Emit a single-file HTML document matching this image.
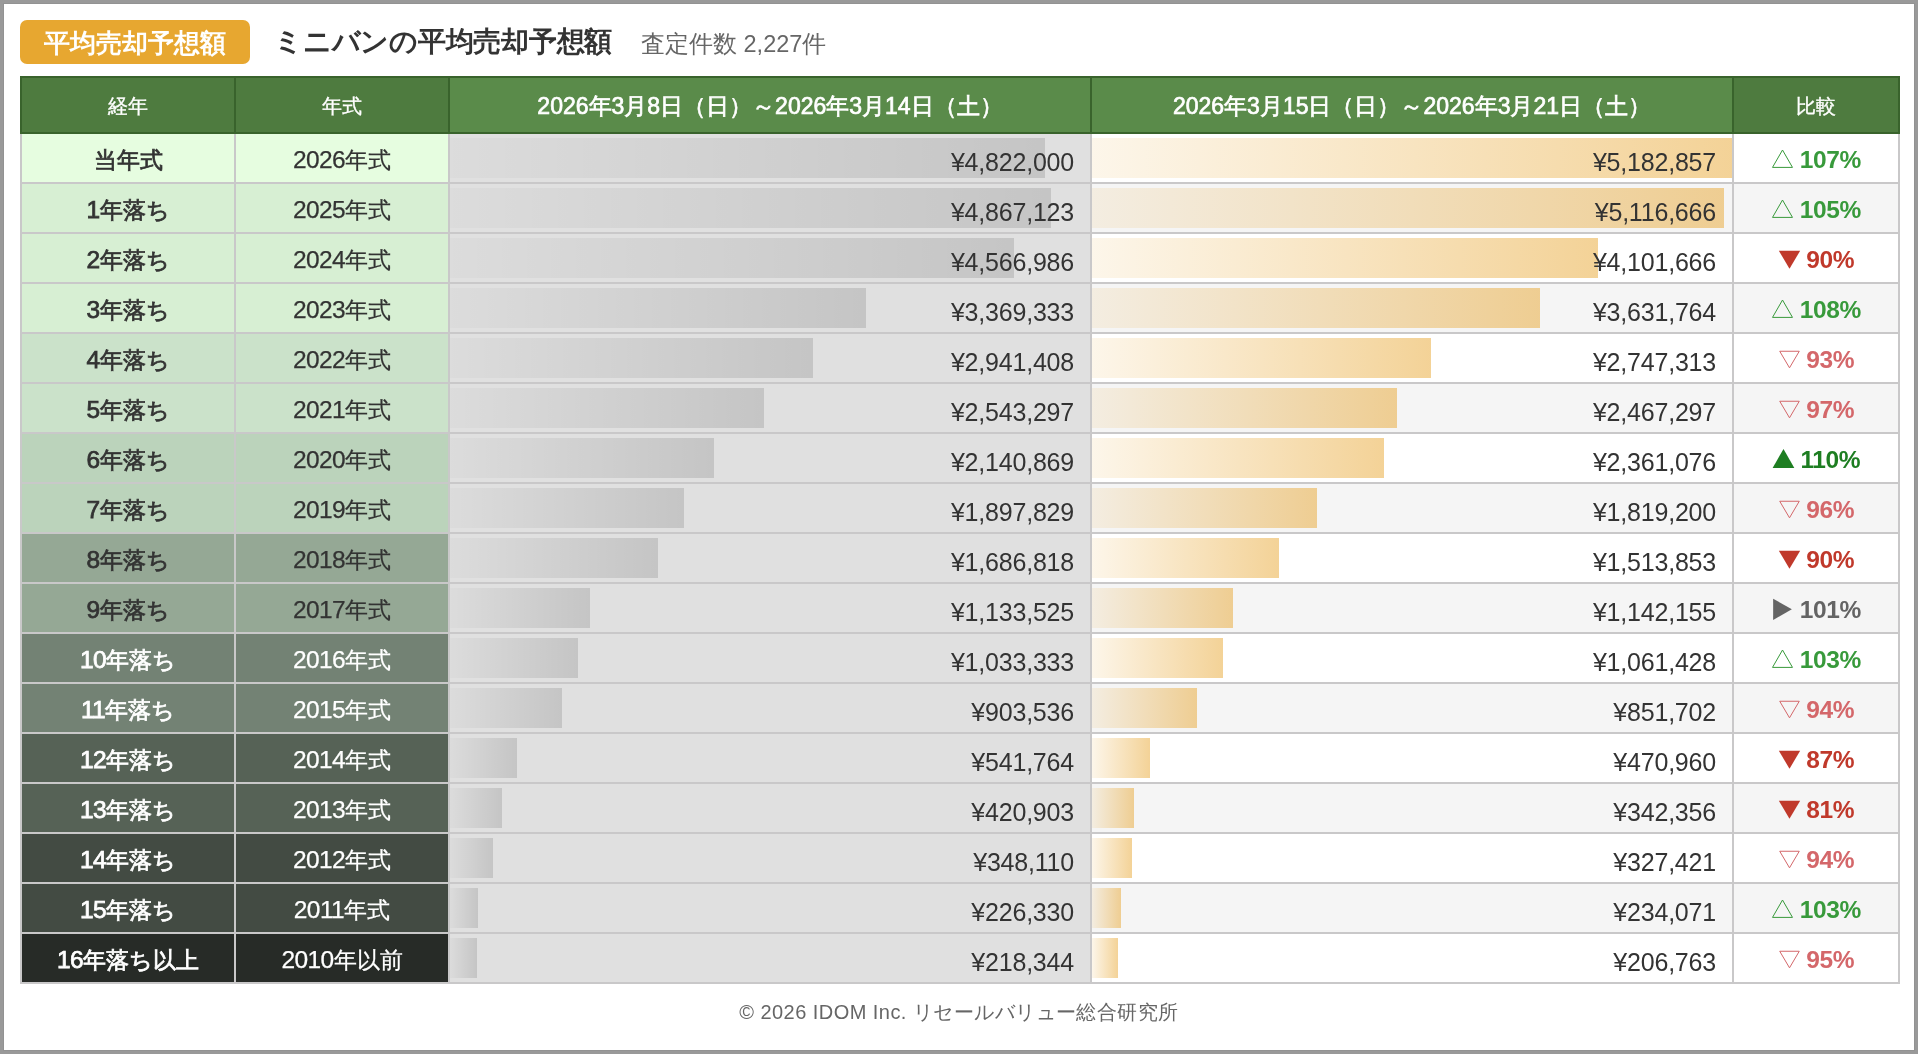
<!DOCTYPE html>
<html lang="ja">
<head>
<meta charset="utf-8">
<title>ミニバンの平均売却予想額</title>
<style>
*{box-sizing:border-box;margin:0;padding:0}
html,body{width:1918px;height:1054px;overflow:hidden;background:#fff}
body{font-family:"Liberation Sans",sans-serif;color:#333;position:relative;will-change:transform}
.frame{position:absolute;left:0;top:0;width:1918px;height:1054px;border:3px solid #999;box-shadow:inset 0 0 0 1px #929292;pointer-events:none}
.badge{position:absolute;left:20px;top:20px;width:230px;height:44px;border-radius:7px;background:#e7a730;color:#fff;font-weight:bold;font-size:26px;line-height:46px;text-align:center}
.title{position:absolute;left:274px;top:20px;height:44px;line-height:44px;font-size:28px;font-weight:bold;letter-spacing:-.25px;color:#333;white-space:nowrap}
.sub{position:absolute;left:641px;top:22px;height:44px;line-height:44px;font-size:23.5px;color:#666;white-space:nowrap}
.thead{position:absolute;left:20px;top:76px;width:1880px;height:58px;background:#39632c;padding:2px;display:flex;gap:2px;color:#fff}
.thead div{height:54px;line-height:56px;text-align:center;background:#4e7b3f;font-size:20px;-webkit-text-stroke:.35px #fff}
.thead .h3,.thead .h4{background:#5a8b4a;font-size:23px;font-weight:normal;-webkit-text-stroke:.7px #fff}
.tbody{position:absolute;left:20px;top:134px;width:1880px;background:#c9c8c9;padding:0 2px 2px 2px}
.row{display:flex;gap:2px;height:48px;margin-bottom:2px}
.row:last-child{margin-bottom:0}
.c{position:relative;height:48px;line-height:52px;font-size:23px;text-align:center;white-space:nowrap}
.w1{width:212px}.w3{width:640px}.w5{width:164px}
.c1,.c2{width:212px;flex:none}
.c3,.c4{width:640px;flex:none}
.c5{width:164px;flex:none}
.c1{-webkit-text-stroke-width:.75px}
.c2{-webkit-text-stroke-width:.25px}
.n{font-size:24.5px;letter-spacing:-.6px}
.c.d{color:#333}.c.l{color:#fff}
.c3{background:#e0e0e0}
.odd .c4,.odd .c5{background:#fff}
.even .c4,.even .c5{background:#f5f5f5}
.bar{position:absolute;left:0;top:4px;height:40px}
.bar.g{background:linear-gradient(90deg,rgba(0,0,0,.02),rgba(0,0,0,.12))}
.bar.o{background:linear-gradient(90deg,rgba(232,166,48,.1),rgba(232,166,48,.5))}
.v{position:absolute;right:16px;top:1.5px;font-size:25px;letter-spacing:-.2px;color:#333}
.c5{font-weight:bold;font-size:24.5px;letter-spacing:-.4px;line-height:51.4px;display:flex;align-items:flex-start;justify-content:center}
.c5 .ic{margin:14px 5.5px 0 0;flex:none;display:block}
.up{color:#389a3b}.uup{color:#1e7e22}.down{color:#d4676a}.ddown{color:#c0392b}.flat{color:#646464}
.foot{position:absolute;left:4px;top:992px;width:1910px;text-align:center;font-size:20px;letter-spacing:.45px;line-height:40px;color:#666}
</style>
</head>
<body>
<div class="badge">平均売却予想額</div>
<div class="title">ミニバンの平均売却予想額</div>
<div class="sub">査定件数 2,227件</div>
<div class="thead">
<div class="w1">経年</div>
<div class="w1">年式</div>
<div class="w3 h3">2026年3月8日（日）～2026年3月14日（土）</div>
<div class="w3 h4">2026年3月15日（日）～2026年3月21日（土）</div>
<div class="w5">比較</div>
</div>
<div class="tbody">
<div class="row odd">
<div class="c c1 d" style="background:#e6fde0">当年式</div>
<div class="c c2 d" style="background:#e6fde0"><span class="n">2026</span>年式</div>
<div class="c c3"><div class="bar g" style="width:595.44px"></div><span class="v">¥4,822,000</span></div>
<div class="c c4"><div class="bar o" style="width:640.0px"></div><span class="v">¥5,182,857</span></div>
<div class="c c5 up"><svg class="ic" width="23" height="22" viewBox="0 0 23 22"><path d="M11.5 2 L21.49 19.4 H1.51 Z" fill="none" stroke="currentColor" stroke-width="1"/></svg><span class="p">107%</span></div>
</div>
<div class="row even">
<div class="c c1 d" style="background:#d7efd3"><span class="n">1</span>年落ち</div>
<div class="c c2 d" style="background:#d7efd3"><span class="n">2025</span>年式</div>
<div class="c c3"><div class="bar g" style="width:601.01px"></div><span class="v">¥4,867,123</span></div>
<div class="c c4"><div class="bar o" style="width:631.83px"></div><span class="v">¥5,116,666</span></div>
<div class="c c5 up"><svg class="ic" width="23" height="22" viewBox="0 0 23 22"><path d="M11.5 2 L21.49 19.4 H1.51 Z" fill="none" stroke="currentColor" stroke-width="1"/></svg><span class="p">105%</span></div>
</div>
<div class="row odd">
<div class="c c1 d" style="background:#d7efd3"><span class="n">2</span>年落ち</div>
<div class="c c2 d" style="background:#d7efd3"><span class="n">2024</span>年式</div>
<div class="c c3"><div class="bar g" style="width:563.95px"></div><span class="v">¥4,566,986</span></div>
<div class="c c4"><div class="bar o" style="width:506.49px"></div><span class="v">¥4,101,666</span></div>
<div class="c c5 ddown"><svg class="ic" width="23" height="22" viewBox="0 0 23 22"><path d="M0.85 2.75 H22.15 L11.5 20.8 Z" fill="currentColor"/></svg><span class="p">90%</span></div>
</div>
<div class="row even">
<div class="c c1 d" style="background:#d7efd3"><span class="n">3</span>年落ち</div>
<div class="c c2 d" style="background:#d7efd3"><span class="n">2023</span>年式</div>
<div class="c c3"><div class="bar g" style="width:416.06px"></div><span class="v">¥3,369,333</span></div>
<div class="c c4"><div class="bar o" style="width:448.46px"></div><span class="v">¥3,631,764</span></div>
<div class="c c5 up"><svg class="ic" width="23" height="22" viewBox="0 0 23 22"><path d="M11.5 2 L21.49 19.4 H1.51 Z" fill="none" stroke="currentColor" stroke-width="1"/></svg><span class="p">108%</span></div>
</div>
<div class="row odd">
<div class="c c1 d" style="background:#cbe2ca"><span class="n">4</span>年落ち</div>
<div class="c c2 d" style="background:#cbe2ca"><span class="n">2022</span>年式</div>
<div class="c c3"><div class="bar g" style="width:363.22px"></div><span class="v">¥2,941,408</span></div>
<div class="c c4"><div class="bar o" style="width:339.25px"></div><span class="v">¥2,747,313</span></div>
<div class="c c5 down"><svg class="ic" width="23" height="22" viewBox="0 0 23 22"><path d="M1.725 3.25 H21.275 L11.5 19.82 Z" fill="none" stroke="currentColor" stroke-width="1"/></svg><span class="p">93%</span></div>
</div>
<div class="row even">
<div class="c c1 d" style="background:#cbe2ca"><span class="n">5</span>年落ち</div>
<div class="c c2 d" style="background:#cbe2ca"><span class="n">2021</span>年式</div>
<div class="c c3"><div class="bar g" style="width:314.06px"></div><span class="v">¥2,543,297</span></div>
<div class="c c4"><div class="bar o" style="width:304.67px"></div><span class="v">¥2,467,297</span></div>
<div class="c c5 down"><svg class="ic" width="23" height="22" viewBox="0 0 23 22"><path d="M1.725 3.25 H21.275 L11.5 19.82 Z" fill="none" stroke="currentColor" stroke-width="1"/></svg><span class="p">97%</span></div>
</div>
<div class="row odd">
<div class="c c1 d" style="background:#bbd3bb"><span class="n">6</span>年落ち</div>
<div class="c c2 d" style="background:#bbd3bb"><span class="n">2020</span>年式</div>
<div class="c c3"><div class="bar g" style="width:264.36px"></div><span class="v">¥2,140,869</span></div>
<div class="c c4"><div class="bar o" style="width:291.56px"></div><span class="v">¥2,361,076</span></div>
<div class="c c5 uup"><svg class="ic" width="23" height="22" viewBox="0 0 23 22"><path d="M11.5 1 L22.35 19.9 H0.65 Z" fill="currentColor"/></svg><span class="p">110%</span></div>
</div>
<div class="row even">
<div class="c c1 d" style="background:#bbd3bb"><span class="n">7</span>年落ち</div>
<div class="c c2 d" style="background:#bbd3bb"><span class="n">2019</span>年式</div>
<div class="c c3"><div class="bar g" style="width:234.35px"></div><span class="v">¥1,897,829</span></div>
<div class="c c4"><div class="bar o" style="width:224.64px"></div><span class="v">¥1,819,200</span></div>
<div class="c c5 down"><svg class="ic" width="23" height="22" viewBox="0 0 23 22"><path d="M1.725 3.25 H21.275 L11.5 19.82 Z" fill="none" stroke="currentColor" stroke-width="1"/></svg><span class="p">96%</span></div>
</div>
<div class="row odd">
<div class="c c1 d" style="background:#95a895"><span class="n">8</span>年落ち</div>
<div class="c c2 d" style="background:#95a895"><span class="n">2018</span>年式</div>
<div class="c c3"><div class="bar g" style="width:208.3px"></div><span class="v">¥1,686,818</span></div>
<div class="c c4"><div class="bar o" style="width:186.94px"></div><span class="v">¥1,513,853</span></div>
<div class="c c5 ddown"><svg class="ic" width="23" height="22" viewBox="0 0 23 22"><path d="M0.85 2.75 H22.15 L11.5 20.8 Z" fill="currentColor"/></svg><span class="p">90%</span></div>
</div>
<div class="row even">
<div class="c c1 d" style="background:#95a895"><span class="n">9</span>年落ち</div>
<div class="c c2 d" style="background:#95a895"><span class="n">2017</span>年式</div>
<div class="c c3"><div class="bar g" style="width:139.97px"></div><span class="v">¥1,133,525</span></div>
<div class="c c4"><div class="bar o" style="width:141.04px"></div><span class="v">¥1,142,155</span></div>
<div class="c c5 flat"><svg class="ic" width="23" height="22" viewBox="0 0 23 22"><path d="M2.15 0.7 L20.85 11.3 L2.15 21.9 Z" fill="currentColor"/></svg><span class="p">101%</span></div>
</div>
<div class="row odd">
<div class="c c1 l" style="background:#738274"><span class="n">10</span>年落ち</div>
<div class="c c2 l" style="background:#738274"><span class="n">2016</span>年式</div>
<div class="c c3"><div class="bar g" style="width:127.6px"></div><span class="v">¥1,033,333</span></div>
<div class="c c4"><div class="bar o" style="width:131.07px"></div><span class="v">¥1,061,428</span></div>
<div class="c c5 up"><svg class="ic" width="23" height="22" viewBox="0 0 23 22"><path d="M11.5 2 L21.49 19.4 H1.51 Z" fill="none" stroke="currentColor" stroke-width="1"/></svg><span class="p">103%</span></div>
</div>
<div class="row even">
<div class="c c1 l" style="background:#738274"><span class="n">11</span>年落ち</div>
<div class="c c2 l" style="background:#738274"><span class="n">2015</span>年式</div>
<div class="c c3"><div class="bar g" style="width:111.57px"></div><span class="v">¥903,536</span></div>
<div class="c c4"><div class="bar o" style="width:105.17px"></div><span class="v">¥851,702</span></div>
<div class="c c5 down"><svg class="ic" width="23" height="22" viewBox="0 0 23 22"><path d="M1.725 3.25 H21.275 L11.5 19.82 Z" fill="none" stroke="currentColor" stroke-width="1"/></svg><span class="p">94%</span></div>
</div>
<div class="row odd">
<div class="c c1 l" style="background:#566256"><span class="n">12</span>年落ち</div>
<div class="c c2 l" style="background:#566256"><span class="n">2014</span>年式</div>
<div class="c c3"><div class="bar g" style="width:66.9px"></div><span class="v">¥541,764</span></div>
<div class="c c4"><div class="bar o" style="width:58.16px"></div><span class="v">¥470,960</span></div>
<div class="c c5 ddown"><svg class="ic" width="23" height="22" viewBox="0 0 23 22"><path d="M0.85 2.75 H22.15 L11.5 20.8 Z" fill="currentColor"/></svg><span class="p">87%</span></div>
</div>
<div class="row even">
<div class="c c1 l" style="background:#566256"><span class="n">13</span>年落ち</div>
<div class="c c2 l" style="background:#566256"><span class="n">2013</span>年式</div>
<div class="c c3"><div class="bar g" style="width:51.97px"></div><span class="v">¥420,903</span></div>
<div class="c c4"><div class="bar o" style="width:42.28px"></div><span class="v">¥342,356</span></div>
<div class="c c5 ddown"><svg class="ic" width="23" height="22" viewBox="0 0 23 22"><path d="M0.85 2.75 H22.15 L11.5 20.8 Z" fill="currentColor"/></svg><span class="p">81%</span></div>
</div>
<div class="row odd">
<div class="c c1 l" style="background:#434b43"><span class="n">14</span>年落ち</div>
<div class="c c2 l" style="background:#434b43"><span class="n">2012</span>年式</div>
<div class="c c3"><div class="bar g" style="width:42.99px"></div><span class="v">¥348,110</span></div>
<div class="c c4"><div class="bar o" style="width:40.43px"></div><span class="v">¥327,421</span></div>
<div class="c c5 down"><svg class="ic" width="23" height="22" viewBox="0 0 23 22"><path d="M1.725 3.25 H21.275 L11.5 19.82 Z" fill="none" stroke="currentColor" stroke-width="1"/></svg><span class="p">94%</span></div>
</div>
<div class="row even">
<div class="c c1 l" style="background:#434b43"><span class="n">15</span>年落ち</div>
<div class="c c2 l" style="background:#434b43"><span class="n">2011</span>年式</div>
<div class="c c3"><div class="bar g" style="width:27.95px"></div><span class="v">¥226,330</span></div>
<div class="c c4"><div class="bar o" style="width:28.9px"></div><span class="v">¥234,071</span></div>
<div class="c c5 up"><svg class="ic" width="23" height="22" viewBox="0 0 23 22"><path d="M11.5 2 L21.49 19.4 H1.51 Z" fill="none" stroke="currentColor" stroke-width="1"/></svg><span class="p">103%</span></div>
</div>
<div class="row odd">
<div class="c c1 l" style="background:#272b27"><span class="n">16</span>年落ち以上</div>
<div class="c c2 l" style="background:#272b27"><span class="n">2010</span>年以前</div>
<div class="c c3"><div class="bar g" style="width:26.96px"></div><span class="v">¥218,344</span></div>
<div class="c c4"><div class="bar o" style="width:25.53px"></div><span class="v">¥206,763</span></div>
<div class="c c5 down"><svg class="ic" width="23" height="22" viewBox="0 0 23 22"><path d="M1.725 3.25 H21.275 L11.5 19.82 Z" fill="none" stroke="currentColor" stroke-width="1"/></svg><span class="p">95%</span></div>
</div>
</div>
<div class="foot">© 2026 IDOM Inc. リセールバリュー総合研究所</div>
<div class="frame"></div>
</body>
</html>
